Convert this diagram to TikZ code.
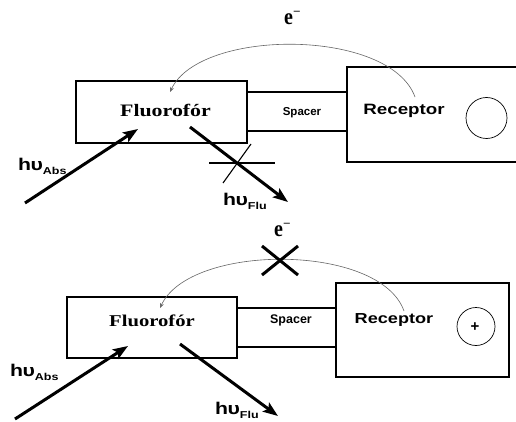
\documentclass[tikz,border=0pt]{standalone}
\usepackage{fontspec}
\usepackage{graphicx}
\setmainfont{Liberation Serif}
\setsansfont{Liberation Sans}
\usetikzlibrary{arrows.meta}
\tikzset{
  box/.style={draw, line width=1.3pt, inner sep=0pt},
  ring/.style={draw, circle, line width=0.7pt, inner sep=0pt},
  photon/.style={line width=3pt, -{Stealth[length=15pt,width=11pt,inset=3pt]}},
  etransfer/.style={draw=black!60, line width=0.6pt, -{Stealth[length=5pt,width=4pt]}},
  lbl/.style={inner sep=0pt, anchor=base},
  lblw/.style={inner sep=0pt, anchor=base west},
  blockline/.style={line width=1.1pt},
  crossline/.style={line width=3pt},
}
\newcommand{\wide}[1]{\scalebox{1.25}[1]{#1}}
\newcommand{\fs}[1]{\fontsize{#1}{#1}\selectfont}
\newcommand{\hvlabel}[3]{\sffamily\bfseries\wide{\fs{#1}h\kern-0.5pt υ\raisebox{-4pt}{\fs{#2}#3}}}
\newcommand{\elabel}{\bfseries\scalebox{1}[1.15]{\fs{20}e}\kern1pt\raisebox{10pt}{\fs{12}--}}
\begin{document}
\begin{tikzpicture}[x=1pt,y=-1pt]
\useasboundingbox (0,0) rectangle (516,422);
\fill[white] (0,0) rectangle (516,422);

% ---------------- top panel ----------------
\node[box, minimum width=171pt, minimum height=62pt] (F1) at (161.5,112) {};
\node[box, minimum width=100pt, minimum height=39pt] (S1) at (297,111.5) {};
\node[box, minimum width=183pt, minimum height=95pt] (R1) at (438.5,114.5) {};
\node[ring, minimum size=41pt] (C1) at (486.5,118) {};
\node[lbl] (F1t) at (165.5,117) {\bfseries\wide{\fs{17.5}Fluorofór}};
\node[lbl] (S1t) at (302,116) {\sffamily\bfseries\fs{11.5}Spacer};
\node[lbl] (R1t) at (404,115) {\sffamily\bfseries\wide{\fs{15}Receptor}};
\node[lbl] (E1) at (292,25) {\elabel};
\node[lblw] (A1) at (18,171) {\hvlabel{17}{10}{Abs}};
\node[lblw] (L1) at (223,205) {\hvlabel{17}{10}{Flu}};

\coordinate (a1s) at (25,203);
\coordinate (a1e) at (138,129);
\coordinate (f1s) at (190,127);
\coordinate (f1e) at (288,202);
\coordinate (e1s) at (415,97);
\coordinate (e1e) at (170,92);
\draw[photon] (a1s) -- (a1e);
\draw[photon] (f1s) -- (f1e);
\draw[etransfer] (e1s) .. controls (390,28) and (200,28) .. (e1e);
\coordinate (b1a) at (209,163);
\coordinate (b1b) at (275,163);
\coordinate (b1c) at (223,183);
\coordinate (b1d) at (251,144);
\draw[blockline] (b1a) -- (b1b);
\draw[blockline] (b1c) -- (b1d);

% ---------------- bottom panel ----------------
\node[box, minimum width=170pt, minimum height=61pt] (F2) at (152,327.5) {};
\node[box, minimum width=99pt, minimum height=39pt] (S2) at (286.5,327.5) {};
\node[box, minimum width=173pt, minimum height=94pt] (R2) at (422.5,330) {};
\node[ring, minimum size=38pt] (C2) at (476,326.5) {};
\node[inner sep=0pt] (P2) at (475,327) {\sffamily\bfseries\fs{15}+};
\node[lbl] (F2t) at (152,326) {\bfseries\wide{\fs{16.5}Fluorofór}};
\node[lbl] (S2t) at (291,323) {\sffamily\bfseries\fs{12.5}Spacer};
\node[lbl] (R2t) at (394,323) {\sffamily\bfseries\wide{\fs{14.5}Receptor}};
\node[lbl] (E2) at (282,236) {\elabel};
\node[lblw] (A2) at (10,376) {\hvlabel{17}{10}{Abs}};
\node[lblw] (L2) at (215,414) {\hvlabel{17}{10}{Flu}};

\coordinate (a2s) at (15,419);
\coordinate (a2e) at (128,346);
\coordinate (f2s) at (180,344);
\coordinate (f2e) at (278,416);
\coordinate (e2s) at (404,311);
\coordinate (e2e) at (160,308);
\draw[photon] (a2s) -- (a2e);
\draw[photon] (f2s) -- (f2e);
\draw[etransfer] (e2s) .. controls (380,243) and (190,243) .. (e2e);
\coordinate (x2a) at (262,246);
\coordinate (x2b) at (298,275);
\coordinate (x2c) at (262,275);
\coordinate (x2d) at (298,246);
\draw[crossline] (x2a) -- (x2b);
\draw[crossline] (x2c) -- (x2d);
\end{tikzpicture}
\end{document}
